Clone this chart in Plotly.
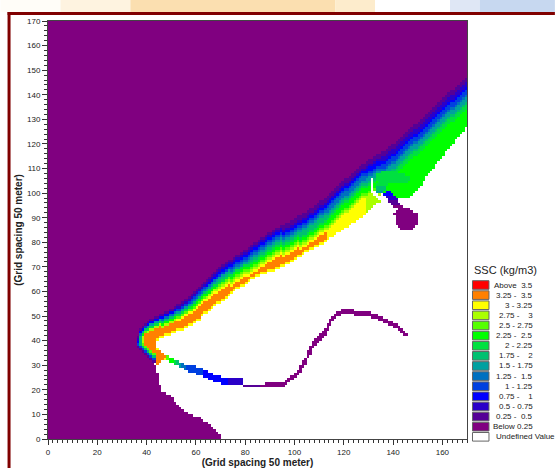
import numpy as np
import plotly.graph_objects as go

# ---- data (grid cells, 170 x 170, spacing 50 m) ----
legend_labels = ["Above\u00a0\u00a03.5", "3.25\u00a0-\u00a0\u00a03.5", "3\u00a0-\u00a03.25", "2.75\u00a0-\u00a0\u00a0\u00a0\u00a03",
                 "2.5\u00a0-\u00a02.75", "2.25\u00a0-\u00a0\u00a02.5", "2\u00a0-\u00a02.25", "1.75\u00a0-\u00a0\u00a0\u00a0\u00a02",
                 "1.5\u00a0-\u00a01.75", "1.25\u00a0-\u00a0\u00a01.5", "1\u00a0-\u00a01.25", "0.75\u00a0-\u00a0\u00a0\u00a0\u00a01",
                 "0.5\u00a0-\u00a00.75", "0.25\u00a0-\u00a0\u00a00.5", "Below\u00a00.25", "Undefined Value"]
level_colors = ["#800080", "#550096", "#2a00c8", "#0000ff", "#0040e0", "#0070c0", "#00a0a0", "#00c070",
                "#00e040", "#00ff00", "#55ff00", "#aaff00", "#ffff00", "#ff8000", "#ff0000"]

# columns x = 36 ... 169
band_top = [42, 45, 46, 47, 48, 49, 49, 50, 50, 51, 51, 52, 52, 53, 53, 54, 55, 55, 56, 57, 57, 58, 59, 60, 61, 62,
            63, 64, 65, 66, 67, 68, 69, 70, 71, 71, 72, 73, 73, 74, 75, 75, 76, 77, 77, 78, 79, 80, 80, 81, 82, 82,
            83, 84, 84, 85, 86, 86, 87, 87, 88, 88, 89, 89, 90, 91, 91, 92, 92, 93, 94, 94, 95, 96, 97, 97, 98, 99,
            100, 101, 102, 103, 104, 105, 106, 106, 107, 108, 109, 110, 111, 112, 112, 113, 114, 114, 115, 116, 116,
            117, 117, 118, 119, 120, 120, 121, 122, 123, 124, 125, 126, 127, 128, 128, 129, 130, 131, 132, 133, 134,
            135, 136, 137, 138, 139, 140, 141, 142, 142, 143, 144, 145, 146, 147]
band_bottom = [37, 36, 35, 34, 33, 32, 31, 31, 40, 41, 41, 42, 42, 42, 43, 43, 44, 44, 44, 45, 45, 46, 46, 47, 48, 48,
               50, 51, 51, 52, 53, 54, 55, 55, 56, 56, 57, 58, 59, 60, 61, 61, 62, 62, 63, 64, 65, 65, 66, 66, 67, 67,
               67, 68, 68, 68, 69, 69, 70, 70, 71, 71, 72, 72, 73, 74, 74, 75, 76, 76, 77, 77, 78, 78, 79, 79, 80, 81,
               82, 82, 83, 84, 84, 85, 86, 86, 87, 88, 88, 89, 90, 90, 91, 92, 93, 94, 95, 96, 96,
               100, 100, 100, 100, 99, 99, 98, 98, 98, 98, 98, 98, 99, 100, 101, 102, 103, 105, 107, 108, 109, 110, 112,
               113, 114, 115, 117, 118, 119, 120, 122, 123, 124, 125, 127]
band_peak = [4, 7, 11] + [13] * 74 + [12] * 16 + [11] * 6 + [9] * 35
band_ramp = [3, 3, 4, 4, 5, 5, 5, 5, 5, 5, 6, 6, 6, 6, 6, 6, 7, 7, 7, 7, 7, 7, 8, 8, 8, 8, 8, 8, 9, 9, 9, 9, 10, 10, 10,
             10, 10, 10, 11, 11, 11, 11, 11, 11, 11, 12, 12, 12, 12, 12, 12, 12, 12, 12, 12, 13, 13, 13, 13, 14, 14, 14, 14, 14,
             14, 14, 15, 15, 15, 15, 15, 15, 15, 15, 15, 15, 15, 15, 15, 15, 15, 15, 15, 15, 15, 15, 15, 15, 15, 15,
             15, 15, 15, 15, 15, 15, 15, 15, 15, 14, 14, 14, 14, 14, 14, 14, 14, 14, 14, 14, 14, 14, 14, 14, 14, 14,
             14, 14, 14, 14, 14, 14, 14, 14, 14, 14, 14, 14, 14, 14, 14, 14, 14, 14]

# land below the band: columns x = 36 ... 69
land_top = [37, 36, 35, 34, 33, 32, 31, 30, 27, 22, 19, 19, 18, 18, 17, 15, 14, 13, 12, 11, 11, 10, 10, 9, 9, 9, 8, 7,
            7, 6, 5, 4, 3, 2]

# river: x, bottom cell, thickness, level
river_x = list(range(47, 146))
river_bottom = [32, 32, 31, 31, 30, 30, 29, 29, 28, 28, 27, 27, 27, 26, 26, 26, 25, 25, 24, 24, 23, 23, 23, 22, 22, 22,
                22, 22, 22, 22, 22, 22, 21, 21, 21, 21, 21, 21, 21, 21, 21, 21, 21, 21, 21, 21, 21, 21, 21, 22, 23, 24,
                24, 25, 26, 27, 29, 30, 33, 34, 37, 38, 39, 40, 41, 42, 44, 46, 48, 49, 50, 50, 51, 51, 51, 51, 51, 50,
                50, 50, 50, 50, 50, 50, 49, 49, 49, 48, 48, 47, 47, 46, 46, 45, 45, 44, 43, 42, 42]
river_thick = [2, 2, 2, 2, 2, 2, 2, 2, 2, 2, 3, 3, 3, 3, 3, 3, 3, 3, 3, 3, 3, 3, 3, 3, 3, 3, 3, 3, 3, 3, 3, 3, 1, 1, 1,
               1, 1, 1, 1, 1, 1, 2, 2, 2, 2, 2, 2, 2, 2, 2, 2, 2, 2, 2, 2, 3, 3, 3, 3, 4, 3, 3, 3, 3, 3, 3, 3, 3, 2, 2,
               2, 2, 2, 2, 2, 2, 2, 2, 2, 2, 2, 2, 2, 2, 2, 2, 2, 2, 2, 2, 2, 2, 2, 2, 2, 2, 2, 2, 1]
river_level = [12, 10, 9, 9, 8, 7, 6, 5, 5, 4, 4, 4, 4, 4, 4, 4, 3, 3, 3, 3, 3, 3, 3, 3, 3, 3, 2, 2, 2, 2, 2, 2, 1, 1,
               1, 1, 1, 1, 1] + [0] * 60

# explicit runs of cells: y, x start, x end, level (None = undefined)
cell_runs = [
    # foot of the plume under the notch
    (30, 44, 44, 13), (31, 44, 45, 13), (32, 44, 46, 13), (33, 44, 47, 13), (34, 44, 46, 13), (35, 44, 45, 13),
    (36, 44, 44, 12),
    # patch and lee area behind the slit
    (108, 135, 141, 8), (107, 133, 144, 8), (106, 133, 146, 8), (105, 133, 146, 8), (104, 134, 145, 8),
    (103, 133, 137, 8), (102, 133, 136, 7), (101, 133, 136, 7), (100, 133, 135, 6),
    # white slit
    (105, 131, 131, None), (104, 131, 131, None), (103, 131, 131, None), (102, 131, 131, None),
    (101, 131, 131, None), (100, 131, 132, None), (99, 132, 133, None), (98, 133, 134, None), (97, 134, 135, None),
    (96, 135, 136, None),
    # river mouth and outlet basin
    (100, 137, 138, 3), (99, 136, 139, 3), (98, 137, 140, 2), (97, 138, 141, 2), (96, 138, 141, 1), (95, 139, 142, 1),
    (94, 140, 143, 0), (93, 142, 146, 0), (92, 141, 147, 0), (91, 140, 149, 0), (90, 141, 149, 0), (89, 141, 149, 0),
    (88, 141, 149, 0), (87, 141, 149, 0), (86, 142, 148, 0), (85, 143, 147, 0),
]

x_ticks = list(range(0, 180, 20))
y_ticks = list(range(0, 180, 10))

# ---- build the grid ----
N = 170
z = np.full((N, N), np.nan)
for i, x in enumerate(range(36, 170)):
    top, bot, peak, ramp = band_top[i], band_bottom[i], band_peak[i], band_ramp[i]
    z[top:, x] = 0
    for y in range(bot, top):
        d = top - 1 - y
        lev = min(peak, 1 + int(d / ramp * peak))
        if x <= 43:
            lev = min(lev, 1 + int((y - bot) / 4 * 13))
        elif y == bot and peak >= 12:
            lev = 12
        z[y, x] = lev
z[:, :36] = 0
for i, top in enumerate(land_top):
    z[:top, 36 + i] = 0
for x, b, t, lev in zip(river_x, river_bottom, river_thick, river_level):
    z[b:b + t, x] = lev
for y, xs, xe, lev in cell_runs:
    z[y, xs:xe + 1] = np.nan if lev is None else lev

# discrete colour scale
n = len(level_colors)
cs = []
for i, c in enumerate(level_colors):
    cs += [[i / n, c], [(i + 1) / n, c]]

fig = go.Figure(go.Heatmap(z=z, x=np.arange(N) + 0.5, y=np.arange(N) + 0.5, colorscale=cs, zmin=-0.5, zmax=n - 0.5,
                           showscale=False, zsmooth=False, hoverongaps=False))

W, H = 555, 468
L, R, T, B = 47.5, 467, 21, 439
fx = lambda p: (p - L) / (R - L)
fy = lambda p: (B - p) / (B - T)
font = "Liberation Sans, Arial, sans-serif"


def rect(x0, y0, x1, y1, fill, line=None):
    return dict(type="rect", xref="paper", yref="paper", x0=fx(x0), x1=fx(x1), y0=fy(y0), y1=fy(y1), fillcolor=fill,
                line=dict(color=line or fill, width=1 if line else 0), layer="above")


shapes = [
    rect(0, 0, 60, 12, "#fffdf8"), rect(60, 0, 130, 12, "#fef3e0"), rect(130, 0, 335, 12, "#fbdfb0"),
    rect(335, 0, 375, 12, "#fdeccc"), rect(375, 0, 450, 12, "#ffffff"), rect(450, 0, 480, 12, "#dfe7f5"),
    rect(480, 0, 555, 12, "#c7d8f0"),
    rect(7, 12, 555, 15, "#800000"), rect(7, 12, 10, 468, "#800000"),
]
ann = [dict(text="SSC (kg/m3)", x=fx(472), y=fy(270), xref="paper", yref="paper", xanchor="left", yanchor="middle",
            showarrow=False, font=dict(family=font, size=11, color="#222"))]
sw_colors = level_colors[::-1] + ["#ffffff"]
for i, (lab, c) in enumerate(zip(legend_labels, sw_colors)):
    yc = 285 + i * 10.12
    shapes.append(rect(472.5, yc - 4.3, 489, yc + 4.3, c, "#666666"))
    last = i == len(legend_labels) - 1
    ann.append(dict(text=lab, x=fx(494 if last else 535), y=fy(yc), xref="paper", yref="paper",
                    xanchor="left" if last else "right", yanchor="middle", showarrow=False,
                    font=dict(family=font, size=8, color="#222")))

axis_common = dict(showgrid=False, zeroline=False, showline=True, linecolor="#444", linewidth=1, mirror=True,
                   ticks="outside", ticklen=5, tickcolor="#333", tickwidth=1,
                   tickfont=dict(family=font, size=8, color="#222"), automargin=False,
                   minor=dict(ticks="outside", ticklen=3, tickcolor="#333", tickwidth=1, dtick=2))
fig.update_layout(
    width=W, height=H, margin=dict(l=L, r=W - R, t=T, b=H - B, pad=0), paper_bgcolor="white", plot_bgcolor="white",
    showlegend=False, shapes=shapes, annotations=ann,
    xaxis=dict(range=[0, 170], tickvals=x_ticks,
               title=dict(text="<b>(Grid spacing 50 meter)</b>", standoff=2, font=dict(family=font, size=10, color="#222")),
               **axis_common),
    yaxis=dict(range=[0, 170], tickvals=y_ticks,
               title=dict(text="<b>(Grid spacing 50 meter)</b>", standoff=2, font=dict(family=font, size=10, color="#222")),
               **axis_common),
)
fig.write_html("out.html", config=dict(displayModeBar=False),
               post_script="document.body.style.margin='0';document.documentElement.style.overflow='hidden';")
